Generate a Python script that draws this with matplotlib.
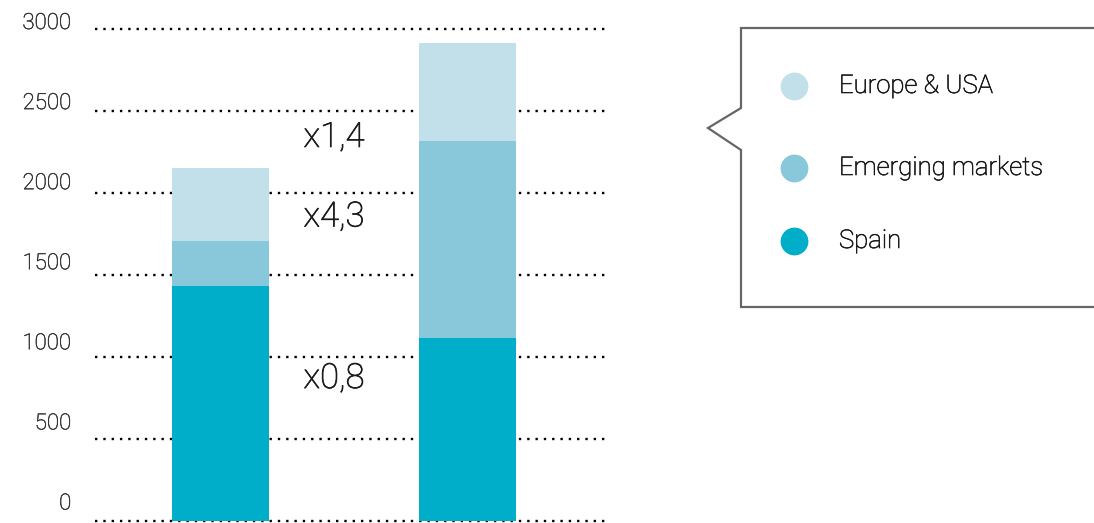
import numpy as np
import matplotlib
matplotlib.use("Agg")
import matplotlib.pyplot as plt
import matplotlib.transforms as mtransforms
import matplotlib.patheffects as pe
from matplotlib.lines import Line2D

W_PX, H_PX, DPI = 1094, 523, 100

# ── data ──
groups = ["Before", "After"]
series = ["Spain", "Emerging markets", "Europe & USA"]
spain = [1430, 1115]
emerging = [280, 1200]
europe = [440, 600]
colors = {"Spain": "#00aec9", "Emerging markets": "#89c8da", "Europe & USA": "#c2e0ea"}
growth_labels = ["x0,8", "x4,3", "x1,4"]
growth_y = [870, 1855, 2340]
yticks = [0, 500, 1000, 1500, 2000, 2500, 3000]

plt.rcParams["font.family"] = ["Roboto", "DejaVu Sans"]
TXT_W = "light"


def thicken(color, lw=0.45):
    # light face reads too faint at this size, so add a hairline outline
    return [pe.withStroke(linewidth=lw, foreground=color)]


fig = plt.figure(figsize=(W_PX / DPI, H_PX / DPI), dpi=DPI)
ax = fig.add_axes([95 / W_PX, 0, (607 - 95) / W_PX, 1])

x = np.arange(len(groups))
width = 0.393
stack = [("Spain", spain), ("Emerging markets", emerging), ("Europe & USA", europe)]
bottom = np.zeros(len(groups))
for name, vals in stack:
    ax.bar(x, vals, width, bottom=bottom, color=colors[name], zorder=3, linewidth=0)
    bottom += np.array(vals)

# dotted gridlines
for v in yticks:
    ax.axhline(v, color="black", lw=1.7, ls=(0, (1, 2.52)), zorder=1)

ax.set_xlim(-0.508, 1.565)
px_per_unit = 82 / 500
ax.set_ylim(-2 / px_per_unit, 521 / px_per_unit)

ax.set_xticks([])
ax.set_yticks(yticks)
ax.set_yticklabels([str(v) for v in yticks], fontsize=16, fontweight=TXT_W, color="#333333")
ax.tick_params(axis="y", length=0, pad=17)
# labels sit a little above their gridline, more so towards the bottom
for v, lab in zip(yticks, ax.get_yticklabels()):
    off = 8 + (3000 - v) / 3000 * 11.5
    lab.set_transform(lab.get_transform() + mtransforms.ScaledTranslation(0, off / DPI, fig.dpi_scale_trans))
    lab.set_path_effects(thicken("#333333", 0.35))
for s in ax.spines.values():
    s.set_visible(False)

# growth factors between the bars
for lab, yv in zip(growth_labels, growth_y):
    ax.text(0.336, yv, lab, fontsize=25, fontweight=TXT_W, color="#1a1a1a",
            ha="left", va="center", zorder=4, path_effects=thicken("#1a1a1a", 0.5))

# callout-shaped legend box
bx = [1100, 741, 741, 708, 741, 741, 1100]
by = [28, 28, 108, 128, 150, 307, 307]
fig.add_artist(Line2D([p / W_PX for p in bx], [1 - p / H_PX for p in by],
                      transform=fig.transFigure, color="#666666", lw=1.6,
                      solid_joinstyle="miter", clip_on=False))

legend_y = [86, 168, 241]
for name, ly in zip(["Europe & USA", "Emerging markets", "Spain"], legend_y):
    fig.add_artist(Line2D([794 / W_PX], [1 - ly / H_PX], transform=fig.transFigure,
                          marker="o", markersize=19, color=colors[name], ls="none"))
    fig.text(839 / W_PX, 1 - ly / H_PX, name, fontsize=18.5, fontweight=TXT_W,
             color="#1a1a1a", ha="left", va="center", path_effects=thicken("#1a1a1a"))

fig.savefig("out.png", dpi=DPI)
